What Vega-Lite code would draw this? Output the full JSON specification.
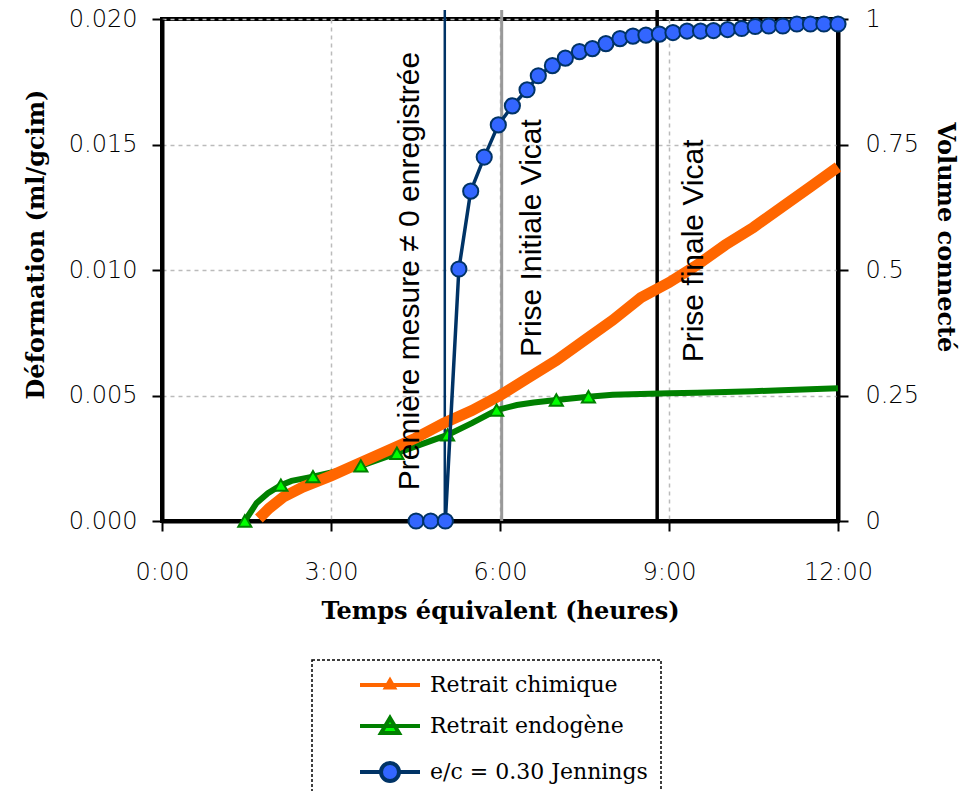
{
  "$schema": "https://vega.github.io/schema/vega-lite/v6.json",
  "width": 676,
  "height": 502,
  "autosize": {"type": "none"},
  "padding": {"left": 162, "top": 19, "right": 124, "bottom": 270},
  "background": "white",
  "datasets": {
    "chimique": [
      {"t": 1.72, "y": 0.0001}, {"t": 1.9, "y": 0.0005}, {"t": 2.15, "y": 0.00095},
      {"t": 2.5, "y": 0.00135}, {"t": 3.0, "y": 0.0018}, {"t": 3.5, "y": 0.0023},
      {"t": 4.0, "y": 0.0028}, {"t": 4.5, "y": 0.0033}, {"t": 5.0, "y": 0.0039},
      {"t": 5.5, "y": 0.0044}, {"t": 6.0, "y": 0.005}, {"t": 6.5, "y": 0.0057},
      {"t": 7.0, "y": 0.0064}, {"t": 7.5, "y": 0.0072}, {"t": 8.0, "y": 0.008},
      {"t": 8.5, "y": 0.0089}, {"t": 9.0, "y": 0.0095}, {"t": 9.5, "y": 0.0102},
      {"t": 10.0, "y": 0.011}, {"t": 10.5, "y": 0.0117}, {"t": 11.0, "y": 0.0125},
      {"t": 11.5, "y": 0.0133}, {"t": 12.0, "y": 0.0141}
    ],
    "endogene": [
      {"t": 1.47, "y": 0.0}, {"t": 1.68, "y": 0.00072}, {"t": 1.88, "y": 0.00111},
      {"t": 2.11, "y": 0.00143}, {"t": 2.3, "y": 0.0016}, {"t": 2.68, "y": 0.00177},
      {"t": 3.53, "y": 0.0022}, {"t": 4.17, "y": 0.0027}, {"t": 4.6, "y": 0.00305},
      {"t": 5.07, "y": 0.00343}, {"t": 5.5, "y": 0.0039}, {"t": 5.94, "y": 0.00442},
      {"t": 6.3, "y": 0.00462}, {"t": 6.6, "y": 0.00472}, {"t": 7.0, "y": 0.00482},
      {"t": 7.57, "y": 0.00495}, {"t": 8.0, "y": 0.00503}, {"t": 8.5, "y": 0.00506},
      {"t": 9.0, "y": 0.00509}, {"t": 9.5, "y": 0.00511}, {"t": 10.0, "y": 0.00514},
      {"t": 10.5, "y": 0.00517}, {"t": 11.0, "y": 0.00521}, {"t": 11.5, "y": 0.00525},
      {"t": 12.0, "y": 0.00529}
    ],
    "endogene_markers": [
      {"t": 1.47, "y": 0.0}, {"t": 2.11, "y": 0.00143}, {"t": 2.68, "y": 0.00177},
      {"t": 3.53, "y": 0.0022}, {"t": 4.17, "y": 0.0027}, {"t": 5.07, "y": 0.00343},
      {"t": 5.94, "y": 0.00442}, {"t": 7.0, "y": 0.00482}, {"t": 7.57, "y": 0.00495}
    ],
    "jennings": [
      {"t": 4.51, "v": 0}, {"t": 4.77, "v": 0}, {"t": 5.03, "v": 0},
      {"t": 5.27, "v": 0.502}, {"t": 5.48, "v": 0.657}, {"t": 5.72, "v": 0.725},
      {"t": 5.97, "v": 0.789}, {"t": 6.22, "v": 0.827}, {"t": 6.48, "v": 0.859},
      {"t": 6.68, "v": 0.887}, {"t": 6.93, "v": 0.907}, {"t": 7.16, "v": 0.922},
      {"t": 7.41, "v": 0.935}, {"t": 7.64, "v": 0.941}, {"t": 7.88, "v": 0.951},
      {"t": 8.13, "v": 0.961}, {"t": 8.36, "v": 0.966}, {"t": 8.59, "v": 0.968},
      {"t": 8.83, "v": 0.97}, {"t": 9.07, "v": 0.973}, {"t": 9.32, "v": 0.976},
      {"t": 9.56, "v": 0.976}, {"t": 9.79, "v": 0.977}, {"t": 10.04, "v": 0.979},
      {"t": 10.29, "v": 0.981}, {"t": 10.53, "v": 0.985}, {"t": 10.77, "v": 0.986},
      {"t": 11.02, "v": 0.986}, {"t": 11.27, "v": 0.99}, {"t": 11.51, "v": 0.99},
      {"t": 11.75, "v": 0.99}, {"t": 12.0, "v": 0.99}
    ],
    "rules": [
      {"name": "premiere", "t": 5.02},
      {"name": "initiale", "t": 6.03},
      {"name": "finale", "t": 8.79}
    ],
    "labels": [
      {"label": "Première mesure  ≠ 0 enregistrée", "t": 4.4, "y": 0.00996},
      {"label": "Prise Initiale Vicat", "t": 6.57, "y": 0.01127},
      {"label": "Prise finale Vicat", "t": 9.44, "y": 0.01076}
    ],
    "series": [
      {"series": "Retrait chimique"},
      {"series": "Retrait endogène"},
      {"series": "e/c = 0.30 Jennings"}
    ]
  },
  "layer": [
    {
      "resolve": {"scale": {"strokeWidth": "independent"}},
      "layer": [
        {
          "data": {"name": "rules"},
          "mark": {"type": "rule", "clip": false},
          "encoding": {
            "x": {
              "field": "t", "type": "quantitative",
              "scale": {"domain": [0, 12], "nice": false, "zero": false},
              "axis": {
                "title": "Temps équivalent (heures)",
                "values": [0, 3, 6, 9, 12],
                "labelExpr": "floor(datum.value) + ':00'",
                "labelPadding": 29,
                "titlePadding": 15,
                "grid": true,
                "labelFlush": false,
                "labelOverlap": false
              }
            },
            "y": {
              "datum": 0, "type": "quantitative",
              "scale": {"domain": [0, 0.02], "nice": false, "zero": false},
              "axis": {
                "title": "Déformation (ml/gcim)",
                "values": [0, 0.005, 0.01, 0.015, 0.02],
                "format": ".3f",
                "labelPadding": 15,
                "titlePadding": 20,
                "titleY": 225,
                "grid": true,
                "labelFlush": false,
                "labelOverlap": false
              }
            },
            "y2": {"datum": 0.02036},
            "color": {
              "field": "name", "type": "nominal", "legend": null,
              "scale": {"domain": ["premiere", "initiale", "finale"], "range": ["#003366", "#999999", "#000000"]}
            },
            "strokeWidth": {
              "field": "name", "type": "nominal", "legend": null,
              "scale": {"domain": ["premiere", "initiale", "finale"], "range": [2.5, 3.5, 3.5]}
            }
          }
        },
        {
          "mark": {"type": "rule", "color": "black", "strokeWidth": 4},
          "encoding": {"y": {"datum": 0.02, "type": "quantitative"}}
        },
        {
          "data": {"name": "endogene"},
          "mark": {"type": "line", "color": "#008000", "strokeWidth": 6},
          "encoding": {
            "x": {"field": "t", "type": "quantitative"},
            "y": {"field": "y", "type": "quantitative"}
          }
        },
        {
          "data": {"name": "chimique"},
          "mark": {"type": "line", "color": "#FF6600", "strokeWidth": 11},
          "encoding": {
            "x": {"field": "t", "type": "quantitative"},
            "y": {"field": "y", "type": "quantitative"}
          }
        },
        {
          "data": {"name": "endogene_markers"},
          "mark": {"type": "point", "shape": "triangle-up", "filled": true, "fill": "#00FF00", "stroke": "#008000", "strokeWidth": 2, "size": 170, "opacity": 1},
          "encoding": {
            "x": {"field": "t", "type": "quantitative"},
            "y": {"field": "y", "type": "quantitative"}
          }
        },
        {
          "data": {"name": "labels"},
          "mark": {"type": "text", "angle": 270, "font": "Liberation Sans", "fontSize": 30, "align": "center", "baseline": "middle", "color": "black"},
          "encoding": {
            "x": {"field": "t", "type": "quantitative"},
            "y": {"field": "y", "type": "quantitative"},
            "text": {"field": "label"}
          }
        },
        {
          "data": {"name": "series"},
          "mark": {"type": "point", "filled": true, "opacity": 0},
          "encoding": {
            "shape": {
              "field": "series", "type": "nominal",
              "scale": {
                "domain": ["Retrait chimique", "Retrait endogène", "e/c = 0.30 Jennings"],
                "range": [
                  "M-3,0H3M0,-0.45L0.4,0.25H-0.4Z",
                  "M-3,0H3M0,-0.8L0.9,0.7H-0.9Z",
                  "M-3,0H-0.9M0.9,0H3M0.9,0A0.9,0.9 0 1,1 -0.9,0A0.9,0.9 0 1,1 0.9,0Z"
                ]
              },
              "legend": {
                "title": null,
                "orient": "none",
                "legendX": 150,
                "legendY": 641,
                "direction": "vertical",
                "symbolSize": 400,
                "symbolOpacity": 1,
                "symbolStrokeWidth": 4,
                "symbolOffset": 53,
                "labelOffset": 28,
                "padding": 13,
                "rowPadding": 14,
                "labelFont": "DejaVu Serif",
                "labelFontSize": 22,
                "labelColor": "black",
                "labelLimit": 400,
                "strokeColor": "black"
              }
            },
            "stroke": {
              "field": "series", "type": "nominal",
              "scale": {"domain": ["Retrait chimique", "Retrait endogène", "e/c = 0.30 Jennings"], "range": ["#FF6600", "#008000", "#003366"]}
            },
            "fill": {
              "field": "series", "type": "nominal",
              "scale": {"domain": ["Retrait chimique", "Retrait endogène", "e/c = 0.30 Jennings"], "range": ["#FFFF00", "#00FF00", "#3366FF"]}
            }
          }
        }
      ]
    },
    {
      "data": {"name": "jennings"},
      "layer": [
        {
          "mark": {"type": "line", "color": "#003366", "strokeWidth": 3.5},
          "encoding": {
            "x": {"field": "t", "type": "quantitative"},
            "y": {
              "field": "v", "type": "quantitative",
              "scale": {"domain": [0, 1], "nice": false, "zero": false},
              "axis": {
                "orient": "right",
                "title": "Volume connecté",
                "values": [0, 0.25, 0.5, 0.75, 1],
                "labelExpr": "datum.value + ''",
                "labelPadding": 17,
                "titlePadding": 14,
                "titleY": 218,
                "grid": false,
                "labelFlush": false,
                "labelOverlap": false
              }
            }
          }
        },
        {
          "mark": {"type": "point", "shape": "circle", "filled": true, "fill": "#3366FF", "stroke": "#003366", "strokeWidth": 2, "size": 230, "opacity": 1},
          "encoding": {
            "x": {"field": "t", "type": "quantitative"},
            "y": {"field": "v", "type": "quantitative"}
          }
        }
      ]
    }
  ],
  "resolve": {"scale": {"y": "independent"}},
  "config": {
    "view": {"stroke": "black", "strokeWidth": 4},
    "legend": {"strokeDash": [3, 2], "strokeWidth": 1.5},
    "axis": {
      "domainColor": "black",
      "domainWidth": 4,
      "tickColor": "black",
      "tickWidth": 2,
      "tickSize": 10,
      "labelFont": "DejaVu Sans",
      "labelFontWeight": 200,
      "labelFontSize": 24,
      "labelColor": "black",
      "titleFont": "DejaVu Serif",
      "titleFontWeight": "bold",
      "titleFontSize": 24,
      "titleColor": "black",
      "gridColor": "#BBBBBB",
      "gridDash": [4, 4],
      "gridWidth": 1.5
    }
  }
}
